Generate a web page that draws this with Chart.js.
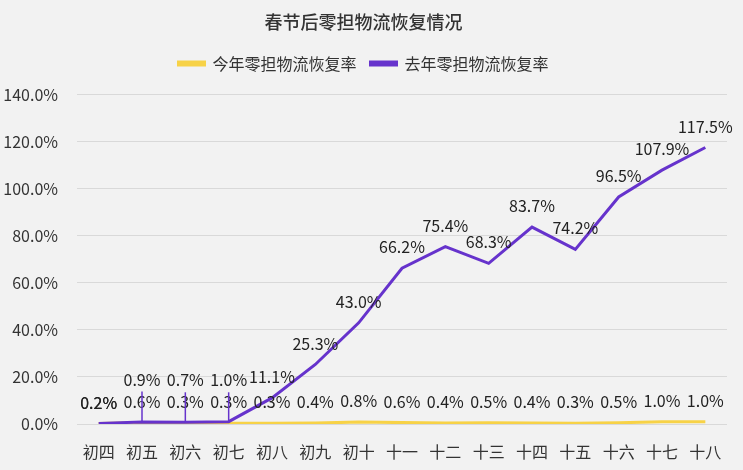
<!DOCTYPE html>
<html>
<head>
<meta charset="utf-8">
<script src="https://cdn.jsdelivr.net/npm/chart.js@4/dist/chart.umd.min.js"></script>
<style>
  html, body { margin: 0; padding: 0; background: #f2f2f2; }
  #wrap { width: 743px; height: 470px; }
</style>
</head>
<body>
<div id="wrap"><canvas id="logistics"></canvas></div>
<script>
// 数据
const days = ['初四', '初五', '初六', '初七', '初八', '初九', '初十', '十一', '十二', '十三', '十四', '十五', '十六', '十七', '十八'];
const thisYear = [0.2, 0.6, 0.3, 0.3, 0.3, 0.4, 0.8, 0.6, 0.4, 0.5, 0.4, 0.3, 0.5, 1.0, 1.0];
const lastYear = [0.2, 0.9, 0.7, 1.0, 11.1, 25.3, 43.0, 66.2, 75.4, 68.3, 83.7, 74.2, 96.5, 107.9, 117.5];
const yTicks = [0, 20, 40, 60, 80, 100, 120, 140];

const YELLOW = '#f7d247';
const PURPLE = '#6633cc';
const FONT = '"Noto Sans CJK SC", "Noto Sans", sans-serif';

const pct = v => v.toFixed(1) + '%';

// 图例下方留白
const legendSpacer = {
    id: 'legendSpacer',
    afterInit(chart) {
        const fit = chart.legend.fit;
        chart.legend.fit = function () {
            fit.call(this);
            this.height += 13;
        };
    }
};

// 数值标签
const valueLabels = {
    id: 'valueLabels',
    afterDatasetsDraw(chart) {
        const ctx = chart.ctx;
        const lastMeta = chart.getDatasetMeta(0);
        const thisMeta = chart.getDatasetMeta(1);
        ctx.save();
        ctx.font = '16px ' + FONT;
        ctx.fillStyle = '#222';
        ctx.textAlign = 'center';
        ctx.textBaseline = 'middle';

        thisMeta.data.forEach((pt, i) => {
            ctx.fillText(pct(thisYear[i]), pt.x, pt.y - 21);
        });

        lastMeta.data.forEach((pt, i) => {
            const yellowY = thisMeta.data[i].y - 21;
            let y = pt.y - 21;
            if (lastYear[i] !== thisYear[i] && y > yellowY - 20) {
                y = yellowY - 22;
                ctx.strokeStyle = PURPLE;
                ctx.lineWidth = 1.5;
                ctx.beginPath();
                ctx.moveTo(pt.x, pt.y);
                ctx.lineTo(pt.x, y + 12);
                ctx.stroke();
            }
            ctx.fillText(pct(lastYear[i]), pt.x, y);
        });
        ctx.restore();
    }
};

const ctx = document.getElementById('logistics').getContext('2d');
new Chart(ctx, {
    type: 'line',
    data: {
        labels: days,
        datasets: [{
            label: '去年零担物流恢复率',
            data: lastYear,
            borderColor: PURPLE,
            backgroundColor: PURPLE,
            borderWidth: 3,
            pointRadius: 0,
            tension: 0
        }, {
            label: '今年零担物流恢复率',
            data: thisYear,
            borderColor: YELLOW,
            backgroundColor: YELLOW,
            borderWidth: 3,
            pointRadius: 0,
            tension: 0
        }]
    },
    options: {
        responsive: true,
        maintainAspectRatio: false,
        animation: false,
        layout: { padding: { left: 0, right: 16, top: 0, bottom: 0 } },
        plugins: {
            title: {
                display: true,
                text: '春节后零担物流恢复情况',
                color: '#333',
                font: { family: FONT, size: 18, weight: '500' },
                padding: { top: 11, bottom: 9 }
            },
            legend: {
                reverse: true,
                labels: {
                    color: '#333',
                    font: { family: FONT, size: 16 },
                    boxWidth: 26,
                    boxHeight: 3,
                    padding: 14
                }
            },
            tooltip: { enabled: false }
        },
        scales: {
            x: {
                offset: true,
                grid: { display: false },
                border: { display: false },
                afterFit: scale => { scale.height = 46; },
                ticks: {
                    color: '#333',
                    font: { family: FONT, size: 16 },
                    padding: 10,
                    maxRotation: 0,
                    autoSkip: false
                }
            },
            y: {
                min: 0,
                max: 140,
                afterBuildTicks: scale => { scale.ticks = yTicks.map(v => ({ value: v })); },
                afterFit: scale => { scale.width = 77; },
                grid: { color: '#d9d9d9', lineWidth: 1, drawTicks: false },
                border: { display: false },
                ticks: {
                    color: '#333',
                    font: { family: FONT, size: 16 },
                    padding: 19,
                    callback: v => pct(v)
                }
            }
        }
    },
    plugins: [legendSpacer, valueLabels]
});
</script>
</body>
</html>
